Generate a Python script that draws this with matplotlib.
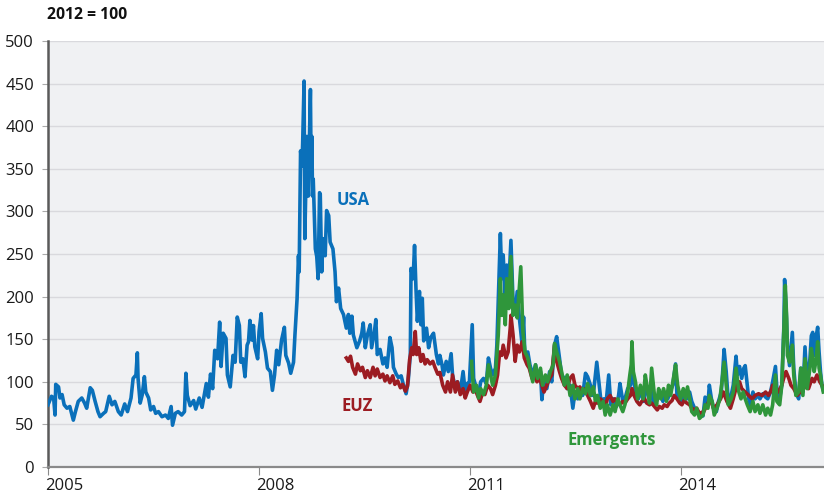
import matplotlib
matplotlib.use("Agg")
import matplotlib.pyplot as plt
import matplotlib.transforms as mtransforms

# ---------------- data ----------------
usa_years = [2005.00, 2005.05, 2005.08, 2005.10, 2005.11, 2005.15, 2005.17, 2005.20, 2005.23, 2005.27,
             2005.31, 2005.36, 2005.39, 2005.43, 2005.48, 2005.52, 2005.55, 2005.60, 2005.63, 2005.67,
             2005.71, 2005.74, 2005.79, 2005.82, 2005.87, 2005.91, 2005.95, 2006.00, 2006.04, 2006.09,
             2006.13, 2006.18, 2006.21, 2006.25, 2006.27, 2006.28, 2006.31, 2006.34, 2006.37, 2006.39,
             2006.43, 2006.46, 2006.50, 2006.53, 2006.57, 2006.62, 2006.67, 2006.71, 2006.75, 2006.77,
             2006.81, 2006.85, 2006.90, 2006.94, 2006.96, 2006.98, 2007.02, 2007.07, 2007.10, 2007.15,
             2007.19, 2007.25, 2007.28, 2007.31, 2007.34, 2007.37, 2007.41, 2007.44, 2007.46, 2007.49,
             2007.53, 2007.55, 2007.59, 2007.63, 2007.66, 2007.69, 2007.72, 2007.74, 2007.77, 2007.80,
             2007.83, 2007.85, 2007.87, 2007.90, 2007.92, 2007.94, 2007.98, 2008.00, 2008.03, 2008.05,
             2008.09, 2008.12, 2008.16, 2008.19, 2008.22, 2008.25, 2008.28, 2008.32, 2008.36, 2008.38,
             2008.42, 2008.45, 2008.49, 2008.51, 2008.54, 2008.56, 2008.57, 2008.59, 2008.61, 2008.62,
             2008.64, 2008.65, 2008.68, 2008.70, 2008.73, 2008.74, 2008.75, 2008.76, 2008.77, 2008.80,
             2008.82, 2008.84, 2008.86, 2008.87, 2008.89, 2008.91, 2008.94, 2008.96, 2008.99, 2009.01,
             2009.05, 2009.08, 2009.10, 2009.13, 2009.16, 2009.20, 2009.24, 2009.27, 2009.29, 2009.32,
             2009.34, 2009.39, 2009.43, 2009.46, 2009.48, 2009.51, 2009.54, 2009.58, 2009.60, 2009.64,
             2009.66, 2009.68, 2009.72, 2009.76, 2009.79, 2009.82, 2009.86, 2009.89, 2009.91, 2009.95,
             2009.98, 2010.02, 2010.05, 2010.09, 2010.12, 2010.15, 2010.16, 2010.19, 2010.21, 2010.23,
             2010.25, 2010.28, 2010.30, 2010.32, 2010.34, 2010.38, 2010.41, 2010.44, 2010.48, 2010.52,
             2010.55, 2010.57, 2010.60, 2010.62, 2010.66, 2010.69, 2010.73, 2010.75, 2010.79, 2010.82,
             2010.86, 2010.90, 2010.93, 2010.96, 2010.99, 2011.03, 2011.05, 2011.09, 2011.12, 2011.15,
             2011.19, 2011.23, 2011.26, 2011.29, 2011.32, 2011.36, 2011.38, 2011.40, 2011.43, 2011.45,
             2011.47, 2011.50, 2011.52, 2011.55, 2011.58, 2011.61, 2011.64, 2011.67, 2011.70, 2011.74,
             2011.76, 2011.78, 2011.82, 2011.85, 2011.89, 2011.93, 2011.96, 2012.00, 2012.02, 2012.05,
             2012.09, 2012.13, 2012.16, 2012.20, 2012.23, 2012.27, 2012.30, 2012.34, 2012.38, 2012.42,
             2012.46, 2012.49, 2012.53, 2012.56, 2012.60, 2012.64, 2012.67, 2012.71, 2012.73, 2012.76,
             2012.80, 2012.83, 2012.86, 2012.90, 2012.93, 2012.97, 2013.00, 2013.04, 2013.08, 2013.11,
             2013.13, 2013.17, 2013.20, 2013.24, 2013.28, 2013.30, 2013.32, 2013.36, 2013.39, 2013.43,
             2013.47, 2013.50, 2013.54, 2013.57, 2013.60, 2013.63, 2013.66, 2013.70, 2013.74, 2013.77,
             2013.81, 2013.84, 2013.88, 2013.92, 2013.94, 2013.98, 2014.01, 2014.04, 2014.08, 2014.12,
             2014.15, 2014.19, 2014.22, 2014.26, 2014.31, 2014.34, 2014.38, 2014.40, 2014.43, 2014.46,
             2014.50, 2014.53, 2014.57, 2014.59, 2014.61, 2014.64, 2014.67, 2014.71, 2014.74, 2014.78,
             2014.80, 2014.83, 2014.86, 2014.89, 2014.91, 2014.94, 2014.96, 2014.98, 2015.02, 2015.05,
             2015.09, 2015.12, 2015.16, 2015.20, 2015.23, 2015.27, 2015.30, 2015.34, 2015.36, 2015.40,
             2015.43, 2015.46, 2015.47, 2015.49, 2015.51, 2015.54, 2015.58, 2015.60, 2015.63, 2015.67,
             2015.70, 2015.73, 2015.76, 2015.79, 2015.83, 2015.85, 2015.87, 2015.89, 2015.92, 2015.94,
             2015.96, 2015.98, 2016.00, 2016.02]
usa_vals = [73, 83, 81, 61, 97, 94, 81, 85, 73, 69,
            71, 55, 65, 77, 81, 75, 69, 93, 90, 77,
            65, 59, 63, 65, 83, 73, 77, 65, 61, 74,
            65, 81, 104, 108, 134, 104, 75, 85, 106, 88,
            81, 67, 71, 63, 65, 59, 61, 57, 71, 49,
            63, 65, 61, 65, 110, 84, 72, 78, 68, 81,
            70, 98, 82, 109, 92, 137, 127, 170, 118, 157,
            151, 108, 94, 131, 123, 176, 166, 123, 127, 106,
            143, 147, 172, 149, 166, 141, 127, 159, 180, 151,
            135, 116, 112, 90, 108, 137, 120, 149, 164, 131,
            122, 110, 123, 155, 197, 248, 229, 371, 353, 381,
            453, 268, 388, 318, 443, 345, 388, 318, 338, 256,
            247, 221, 322, 320, 229, 268, 248, 301, 295, 264,
            256, 229, 194, 210, 186, 179, 163, 179, 157, 177,
            155, 140, 148, 157, 169, 140, 155, 167, 140, 159,
            173, 132, 138, 121, 128, 117, 152, 140, 117, 109,
            105, 107, 97, 86, 101, 132, 233, 221, 260, 210,
            171, 206, 167, 198, 148, 163, 140, 152, 157, 132,
            121, 131, 120, 108, 124, 112, 133, 108, 92, 100,
            88, 112, 88, 98, 100, 167, 104, 92, 85, 100,
            104, 98, 128, 116, 108, 116, 143, 194, 274, 221,
            249, 194, 237, 214, 266, 194, 182, 206, 175, 143,
            176, 128, 135, 120, 108, 120, 108, 112, 79, 104,
            92, 112, 100, 143, 153, 128, 108, 104, 92, 96,
            69, 88, 80, 92, 84, 110, 106, 96, 84, 92,
            123, 100, 77, 80, 73, 108, 73, 80, 71, 84,
            98, 77, 80, 92, 96, 116, 104, 84, 80, 88,
            77, 92, 84, 96, 77, 73, 80, 88, 77, 84,
            80, 88, 96, 121, 84, 80, 77, 88, 80, 88,
            77, 69, 65, 61, 60, 82, 73, 96, 80, 69,
            65, 77, 88, 112, 138, 112, 77, 84, 96, 130,
            108, 118, 104, 116, 119, 96, 80, 73, 88, 80,
            84, 80, 86, 82, 80, 88, 100, 118, 92, 80,
            96, 166, 220, 189, 143, 119, 158, 116, 88, 80,
            116, 88, 141, 96, 127, 154, 158, 131, 154, 164,
            135, 112, 96, 90]

euz_years = [2009.24, 2009.27, 2009.30, 2009.33, 2009.37, 2009.40, 2009.44, 2009.47, 2009.51, 2009.54,
             2009.58, 2009.62, 2009.65, 2009.68, 2009.72, 2009.76, 2009.79, 2009.82, 2009.86, 2009.90,
             2009.93, 2009.97, 2010.01, 2010.04, 2010.08, 2010.11, 2010.14, 2010.17, 2010.19, 2010.22,
             2010.24, 2010.27, 2010.30, 2010.33, 2010.36, 2010.39, 2010.43, 2010.47, 2010.50, 2010.54,
             2010.57, 2010.61, 2010.65, 2010.68, 2010.72, 2010.75, 2010.79, 2010.82, 2010.86, 2010.90,
             2010.93, 2010.96, 2011.00, 2011.04, 2011.07, 2011.10, 2011.14, 2011.18, 2011.21, 2011.25,
             2011.29, 2011.32, 2011.36, 2011.39, 2011.42, 2011.45, 2011.47, 2011.51, 2011.54, 2011.57,
             2011.58, 2011.61, 2011.64, 2011.67, 2011.70, 2011.74, 2011.77, 2011.81, 2011.84, 2011.88,
             2011.91, 2011.95, 2011.99, 2012.02, 2012.05, 2012.09, 2012.13, 2012.16, 2012.20, 2012.23,
             2012.27, 2012.30, 2012.34, 2012.38, 2012.42, 2012.46, 2012.49, 2012.53, 2012.56, 2012.60,
             2012.64, 2012.67, 2012.71, 2012.75, 2012.78, 2012.81, 2012.85, 2012.89, 2012.92, 2012.95,
             2012.99, 2013.03, 2013.06, 2013.10, 2013.13, 2013.17, 2013.20, 2013.24, 2013.28, 2013.30,
             2013.33, 2013.37, 2013.41, 2013.44, 2013.48, 2013.51, 2013.55, 2013.58, 2013.62, 2013.66,
             2013.69, 2013.73, 2013.76, 2013.80, 2013.83, 2013.87, 2013.90, 2013.94, 2013.98, 2014.01,
             2014.04, 2014.08, 2014.12, 2014.15, 2014.19, 2014.22, 2014.26, 2014.32, 2014.37, 2014.41,
             2014.46, 2014.51, 2014.56, 2014.60, 2014.65, 2014.70, 2014.74, 2014.79, 2014.83, 2014.86,
             2014.91, 2014.96, 2015.01, 2015.05, 2015.10, 2015.15, 2015.20, 2015.24, 2015.28, 2015.30,
             2015.34, 2015.38, 2015.43, 2015.47, 2015.49, 2015.53, 2015.56, 2015.60, 2015.65, 2015.69,
             2015.74, 2015.78, 2015.81, 2015.86, 2015.89, 2015.93, 2015.97, 2016.00, 2016.02]
euz_vals = [128, 124, 130, 117, 109, 121, 113, 117, 105, 113,
            105, 117, 107, 115, 105, 109, 101, 107, 99, 107,
            97, 101, 93, 97, 89, 95, 126, 140, 132, 159,
            132, 140, 124, 132, 121, 126, 121, 124, 117, 109,
            111, 96, 88, 100, 88, 108, 88, 100, 85, 92,
            81, 88, 96, 88, 92, 85, 77, 88, 85, 96,
            92, 85, 96, 108, 135, 131, 143, 128, 135, 163,
            178, 155, 124, 143, 135, 147, 128, 120, 116, 104,
            108, 100, 104, 96, 88, 96, 104, 108, 143, 124,
            112, 104, 96, 92, 104, 108, 96, 92, 94, 88,
            92, 84, 77, 69, 77, 75, 80, 77, 69, 80,
            84, 77, 80, 75, 73, 77, 75, 80, 84, 92,
            84, 77, 73, 77, 80, 75, 73, 75, 71, 67,
            71, 69, 73, 71, 75, 78, 84, 80, 75, 73,
            78, 75, 73, 69, 67, 69, 63, 65, 73, 80,
            69, 73, 80, 88, 77, 69, 80, 96, 100, 92,
            88, 84, 80, 84, 86, 84, 88, 84, 90, 96,
            92, 88, 96, 108, 112, 104, 96, 92, 84, 88,
            92, 96, 92, 104, 100, 108, 100, 96, 94]

emg_years = [2011.02, 2011.05, 2011.09, 2011.12, 2011.15, 2011.19, 2011.23, 2011.26, 2011.29, 2011.32,
             2011.36, 2011.38, 2011.40, 2011.43, 2011.45, 2011.47, 2011.50, 2011.52, 2011.55, 2011.58,
             2011.61, 2011.64, 2011.67, 2011.70, 2011.72, 2011.75, 2011.78, 2011.82, 2011.85, 2011.89,
             2011.93, 2011.96, 2012.00, 2012.03, 2012.07, 2012.10, 2012.14, 2012.18, 2012.20, 2012.23,
             2012.27, 2012.30, 2012.34, 2012.38, 2012.42, 2012.46, 2012.49, 2012.53, 2012.56, 2012.60,
             2012.64, 2012.67, 2012.71, 2012.75, 2012.78, 2012.81, 2012.85, 2012.89, 2012.92, 2012.95,
             2012.99, 2013.03, 2013.06, 2013.10, 2013.13, 2013.17, 2013.20, 2013.24, 2013.27, 2013.29,
             2013.30, 2013.32, 2013.35, 2013.38, 2013.42, 2013.46, 2013.49, 2013.52, 2013.55, 2013.58,
             2013.62, 2013.65, 2013.68, 2013.71, 2013.75, 2013.79, 2013.82, 2013.85, 2013.89, 2013.92,
             2013.95, 2013.99, 2014.03, 2014.06, 2014.09, 2014.12, 2014.15, 2014.19, 2014.22, 2014.26,
             2014.31, 2014.34, 2014.38, 2014.40, 2014.44, 2014.47, 2014.51, 2014.55, 2014.58, 2014.61,
             2014.64, 2014.67, 2014.71, 2014.74, 2014.78, 2014.82, 2014.85, 2014.88, 2014.91, 2014.94,
             2014.98, 2015.02, 2015.05, 2015.09, 2015.12, 2015.16, 2015.20, 2015.23, 2015.27, 2015.30,
             2015.34, 2015.36, 2015.40, 2015.43, 2015.46, 2015.48, 2015.50, 2015.51, 2015.54, 2015.58,
             2015.60, 2015.63, 2015.67, 2015.70, 2015.73, 2015.76, 2015.79, 2015.83, 2015.85, 2015.87,
             2015.89, 2015.92, 2015.94, 2015.96, 2015.98, 2016.00, 2016.02]
emg_vals = [124, 88, 96, 81, 92, 85, 96, 120, 108, 96,
            108, 131, 155, 221, 178, 202, 167, 221, 186, 247,
            178, 190, 175, 210, 235, 159, 135, 128, 116, 100,
            120, 104, 116, 96, 108, 100, 112, 120, 145, 135,
            124, 112, 96, 108, 84, 96, 80, 92, 80, 92,
            86, 98, 84, 94, 78, 84, 69, 77, 61, 73,
            61, 73, 65, 80, 73, 65, 73, 88, 108, 120,
            147, 112, 100, 80, 96, 80, 108, 92, 75, 116,
            84, 73, 92, 80, 92, 77, 96, 84, 104, 120,
            96, 80, 92, 80, 94, 80, 65, 61, 69, 57,
            61, 73, 69, 84, 77, 61, 69, 80, 100, 123,
            96, 73, 80, 88, 116, 88, 80, 88, 80, 73,
            65, 77, 65, 73, 63, 73, 61, 69, 61, 73,
            108, 77, 73, 96, 162, 213, 174, 131, 123, 143,
            108, 84, 88, 116, 84, 127, 92, 116, 139, 127,
            112, 127, 147, 116, 108, 96, 88]

series_names = ["USA", "EUZ", "Emergents"]
year_ticks = [2005, 2008, 2011, 2014]
y_ticks = [0, 50, 100, 150, 200, 250, 300, 350, 400, 450, 500]
unit_label = "2012 = 100"

# ---------------- style ----------------
C_USA = "#0a70ba"
C_EUZ = "#9c1c22"
C_EMG = "#2f963b"
BG = "#f0f1f3"
GRID = "#d9d9dd"

plt.rcParams['font.family'] = ['Open Sans', 'DejaVu Sans']

fig = plt.figure(figsize=(8.24, 4.98), dpi=100)
ax = fig.add_axes([48 / 824, 1 - 467 / 498, 1 - 48 / 824, (467 - 41) / 498])
ax.set_facecolor(BG)

LW = 2.6
ax.plot(usa_years, usa_vals, color=C_USA, lw=LW, solid_joinstyle='round', zorder=3)
ax.plot(euz_years, euz_vals, color=C_EUZ, lw=LW, solid_joinstyle='round', zorder=4)
ax.plot(emg_years, emg_vals, color=C_EMG, lw=LW, solid_joinstyle='round', zorder=5)

ax.set_xlim(2005.0, 2016.03)
ax.set_ylim(0, 500)
ax.set_yticks(y_ticks)
ax.set_yticklabels([str(v) for v in y_ticks], fontsize=12, color="#1a1a1a")
ax.set_xticks(year_ticks)
ax.set_xticklabels([str(v) for v in year_ticks], fontsize=12, color="#1a1a1a")

ax.grid(axis='y', color=GRID, lw=1.0, zorder=0)
ax.set_axisbelow(True)

for side in ['top', 'right']:
    ax.spines[side].set_visible(False)
ax.spines['left'].set_color("#5a5a5a")
ax.spines['left'].set_linewidth(1.8)
ax.spines['bottom'].set_color("#8a8a8a")
ax.spines['bottom'].set_linewidth(1.6)

ax.tick_params(axis='y', length=4, width=0.8, color="#aaaaaa", pad=6)
ax.tick_params(axis='x', length=6, width=0.8, color="#8a8a8a", pad=2)

offset = mtransforms.ScaledTranslation(-3 / 100, 0, fig.dpi_scale_trans)
for lab in ax.get_xticklabels():
    lab.set_horizontalalignment('left')
    lab.set_transform(lab.get_transform() + offset)

# series labels
ax.text(2009.34, 313, series_names[0], color=C_USA, fontsize=12, fontweight='bold',
        ha='center', va='center', zorder=6)
ax.text(2009.39, 72, series_names[1], color=C_EUZ, fontsize=12, fontweight='bold',
        ha='center', va='center', zorder=6)
ax.text(2013.01, 32, series_names[2], color=C_EMG, fontsize=12, fontweight='bold',
        ha='center', va='center', zorder=6)

fig.text(47 / 824, 1 - 15 / 498, unit_label, fontsize=11.3, fontweight='bold',
         ha='left', va='center', color="#111111")

fig.savefig("out.png", dpi=100)
